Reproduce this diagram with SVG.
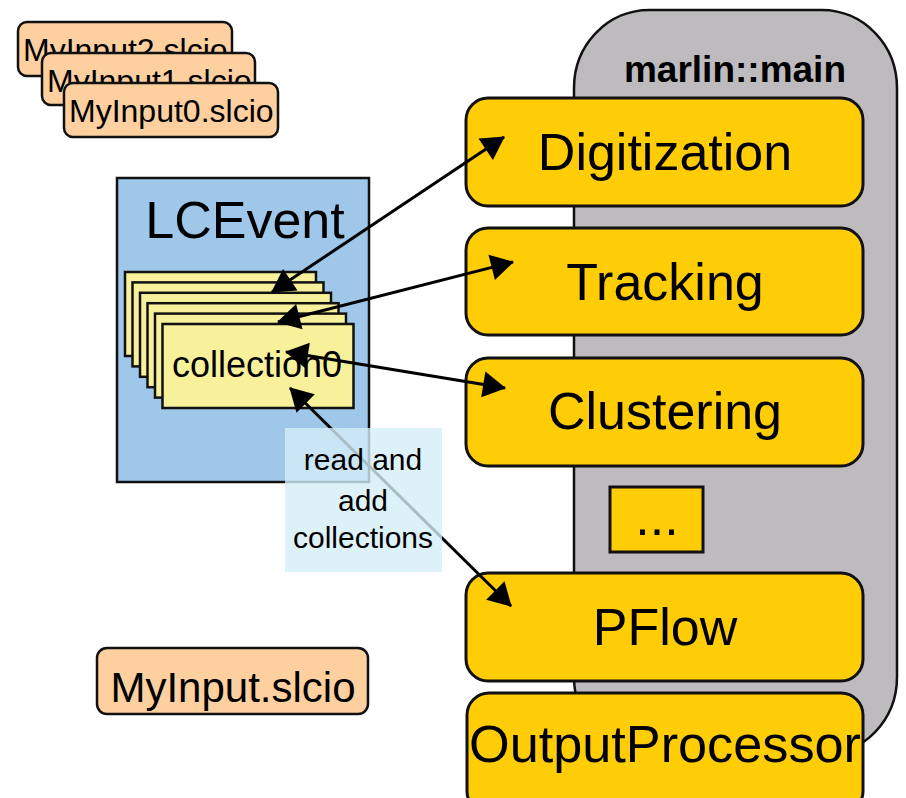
<svg xmlns="http://www.w3.org/2000/svg" width="906" height="798" viewBox="0 0 906 798">
<style>
text{font-family:"Liberation Sans",Arial,sans-serif;fill:#000;}
.file{fill:#fecf9f;stroke:#111;stroke-width:2.5;}
.proc{fill:#fecd06;stroke:#111;stroke-width:3;}
.coll{fill:#f8f19b;stroke:#111;stroke-width:2.5;}
.ftxt{font-size:32px;}
.ptxt{font-size:52px;text-anchor:middle;}
.conn{stroke:#000;stroke-width:3;fill:none;marker-start:url(#ah);marker-end:url(#ah);}
</style>
<defs>
<marker id="ah" markerUnits="userSpaceOnUse" markerWidth="26" markerHeight="28" viewBox="0 0 24 28" refX="22" refY="14" orient="auto-start-reverse">
<path d="M0,1 L23,14 L0,27 Z" fill="#000"/>
</marker>
</defs>
<rect width="906" height="798" fill="#fff"/>

<g id="marlin-main">
<rect x="574" y="10" width="323" height="745" rx="75" ry="78" fill="#bdbbbd" stroke="#111" stroke-width="2.5"/>
<text x="735" y="82" font-size="37" font-weight="bold" text-anchor="middle">marlin::main</text>
</g>

<g id="MyInput2">
<rect class="file" x="18" y="22" width="214" height="54" rx="9"/>
<text class="ftxt" x="23" y="61">MyInput2.slcio</text>
</g>
<g id="MyInput1">
<rect class="file" x="42" y="53" width="213" height="52" rx="9"/>
<text class="ftxt" x="47" y="92">MyInput1.slcio</text>
</g>
<g id="MyInput0">
<rect class="file" x="64" y="83" width="214" height="54" rx="9"/>
<text class="ftxt" x="69" y="122">MyInput0.slcio</text>
</g>

<g id="LCEvent">
<rect x="117" y="178" width="252" height="304" fill="#9fc7e9" stroke="#111" stroke-width="2.5"/>
<text x="245" y="238" font-size="52" text-anchor="middle">LCEvent</text>
</g>

<g id="collections">
<rect class="coll" x="125" y="272" width="191" height="84"/>
<rect class="coll" x="132.5" y="282.4" width="191" height="84"/>
<rect class="coll" x="140" y="292.8" width="191" height="84"/>
<rect class="coll" x="147.5" y="303.2" width="191" height="84"/>
<rect class="coll" x="155" y="313.6" width="191" height="84"/>
<rect class="coll" x="162.5" y="324" width="191" height="84"/>
<text x="257" y="377" font-size="36" text-anchor="middle">collection0</text>
</g>

<g id="Digitization">
<rect class="proc" x="466" y="98" width="397" height="108" rx="22"/>
<text class="ptxt" x="665" y="170">Digitization</text>
</g>
<g id="Tracking">
<rect class="proc" x="466" y="228" width="397" height="107" rx="22"/>
<text class="ptxt" x="665" y="300">Tracking</text>
</g>
<g id="Clustering">
<rect class="proc" x="466" y="358" width="397" height="108" rx="22"/>
<text class="ptxt" x="665" y="429">Clustering</text>
</g>
<g id="more">
<rect class="proc" x="610" y="487" width="93" height="65"/>
<text class="ptxt" x="657" y="535">...</text>
</g>
<g id="PFlow">
<rect class="proc" x="466" y="573" width="397" height="108" rx="22"/>
<text class="ptxt" x="665" y="645">PFlow</text>
</g>
<g id="OutputProcessor">
<rect class="proc" x="467" y="693" width="396" height="120" rx="22"/>
<text class="ptxt" x="665" y="762" textLength="392" lengthAdjust="spacingAndGlyphs">OutputProcessor</text>
</g>

<g id="MyInput">
<rect class="file" x="97" y="648" width="271" height="66" rx="10"/>
<text x="233" y="702" font-size="42" text-anchor="middle">MyInput.slcio</text>
</g>

<g id="connectors">
<line class="conn" x1="272" y1="292" x2="504" y2="137"/>
<line class="conn" x1="278" y1="322" x2="513" y2="262"/>
<line class="conn" x1="286" y1="352" x2="505" y2="388"/>
<line class="conn" x1="290" y1="388" x2="511" y2="606"/>
</g>

<g id="label">
<rect x="285" y="428" width="157" height="144" fill="#d4eef7" fill-opacity="0.8"/>
<text x="363" y="470" font-size="30" text-anchor="middle">read and</text>
<text x="363" y="511" font-size="30" text-anchor="middle">add</text>
<text x="363" y="548" font-size="30" text-anchor="middle">collections</text>
</g>
</svg>
